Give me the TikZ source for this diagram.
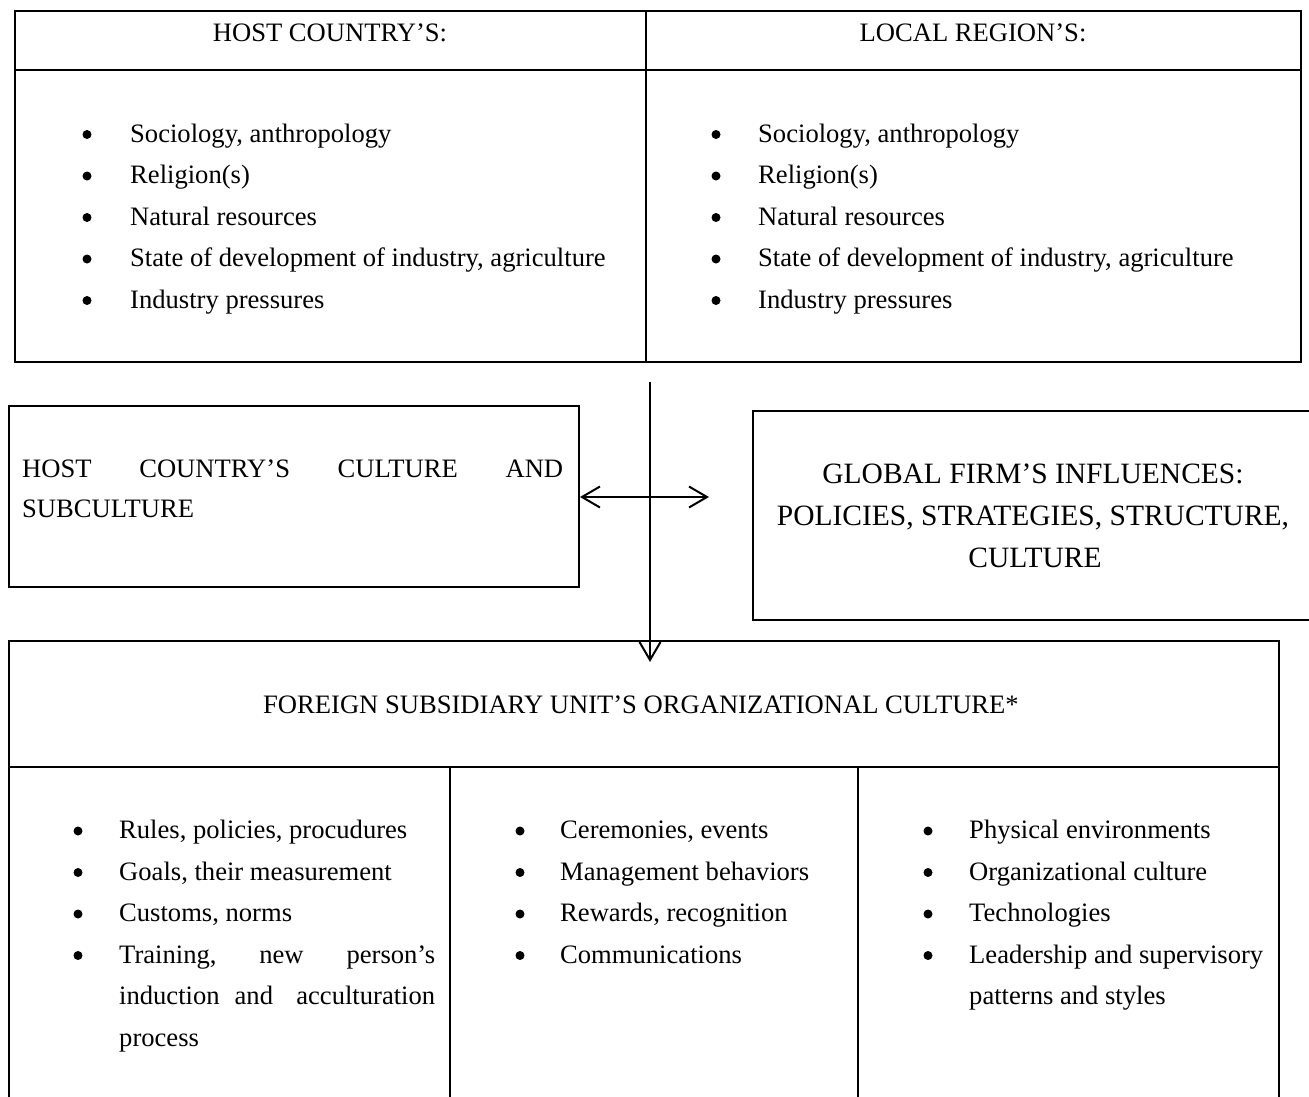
\documentclass[tikz,border=0pt]{standalone}
\usepackage{fontspec}
\setmainfont{Liberation Serif}
\usetikzlibrary{arrows.meta}
\newcommand\bodyfs{\fontsize{26.6pt}{40pt}\selectfont}
\newcommand\bigfs{\fontsize{29.5pt}{42pt}\selectfont}
\begin{document}
\begin{tikzpicture}[x=1pt,y=-1pt,
  box/.style={draw, line width=2pt, inner sep=0pt, anchor=north west},
  rule/.style={line width=2pt},
  txt/.style={inner sep=0pt, anchor=base west, font=\bodyfs},
  ctr/.style={inner sep=0pt, anchor=base, font=\bodyfs},
  bigctr/.style={inner sep=0pt, anchor=base, font=\bigfs},
  bul/.style={circle, fill, inner sep=0pt, minimum size=9pt},
  tip/.tip={Straight Barb[length=18pt,width=21pt]},
  arr/.style={line width=2pt, -tip},
  darr/.style={line width=2pt, tip-tip}]
\useasboundingbox (0,0) rectangle (1309,1096);

% ---------- top table ----------
\node[box, minimum width=1286pt, minimum height=351pt] (top) at (14,10) {};
\draw[rule] (14,70) -- (1300,70);
\draw[rule] (646,10) -- (646,361);
\node[ctr] (hc) at (330,41) {HOST COUNTRY’S:};
\node[ctr] (lr) at (973,41) {LOCAL REGION’S:};
\foreach \t [count=\i] in {{Sociology, anthropology},{Religion(s)},{Natural resources},{State of development of industry, agriculture},{Industry pressures}}{
  \node[bul] (hcb\i) at (87,{134.5+41.5*(\i-1)}) {};
  \node[txt] (hct\i) at (130,{142+41.5*(\i-1)}) {\t};
  \node[bul] (lrb\i) at (716,{134.5+41.5*(\i-1)}) {};
  \node[txt] (lrt\i) at (758,{142+41.5*(\i-1)}) {\t};
}

% ---------- middle boxes ----------
\node[box, minimum width=570pt, minimum height=181pt] (lbox) at (8,405) {};
\node[txt] (lb1) at (22,477) {\hbox to 541pt{HOST\hfill COUNTRY’S\hfill CULTURE\hfill AND}};
\node[txt] (lb2) at (22,517) {SUBCULTURE};

\node[box, minimum width=563pt, minimum height=209pt] (rbox) at (752,410) {};
\node[bigctr] (rb1) at (1033,483) {GLOBAL FIRM’S INFLUENCES:};
\node[bigctr] (rb2) at (1033,525) {POLICIES, STRATEGIES, STRUCTURE,};
\node[bigctr] (rb3) at (1035,567) {CULTURE};

% ---------- bottom table ----------
\node[box, minimum width=1270pt, minimum height=470pt] (bbox) at (8,640) {};
\draw[rule] (8,767) -- (1278,767);
\draw[rule] (450,767) -- (450,1110);
\draw[rule] (858,767) -- (858,1110);
\node[ctr] (fs) at (641,713) {FOREIGN SUBSIDIARY UNIT’S ORGANIZATIONAL CULTURE*};

\foreach \t [count=\i] in {{Rules, policies, procudures},{Goals, their measurement},{Customs, norms}}{
  \node[bul] (c1b\i) at (78,{831+41.5*(\i-1)}) {};
  \node[txt] (c1t\i) at (119,{838.5+41.5*(\i-1)}) {\t};
}
\node[bul] (c1b4) at (78,955.5) {};
\node[txt] (c1t4) at (119,963) {\hbox to 316pt{Training,\hfill new\hfill person’s}};
\node[txt] (c1t5) at (119,1004.5) {\hbox to 316pt{induction\hspace{15pt}and\hfill acculturation}};
\node[txt] (c1t6) at (119,1046) {process};

\foreach \t [count=\i] in {{Ceremonies, events},{Management behaviors},{Rewards, recognition},{Communications}}{
  \node[bul] (c2b\i) at (520,{831+41.5*(\i-1)}) {};
  \node[txt] (c2t\i) at (560,{838.5+41.5*(\i-1)}) {\t};
}

\foreach \t [count=\i] in {{Physical environments},{Organizational culture},{Technologies},{Leadership and supervisory}}{
  \node[bul] (c3b\i) at (928,{831+41.5*(\i-1)}) {};
  \node[txt] (c3t\i) at (969,{838.5+41.5*(\i-1)}) {\t};
}
\node[txt] (c3t5) at (969,1004.5) {patterns and styles};

% ---------- arrows ----------
\coordinate (vtop) at (650,382);
\coordinate (vend) at (650,662);
\coordinate (hl) at (580,497);
\coordinate (hr) at (709,497);
\draw[arr] (vtop) -- (vend);
\draw[darr] (hl) -- (hr);
\end{tikzpicture}
\end{document}
